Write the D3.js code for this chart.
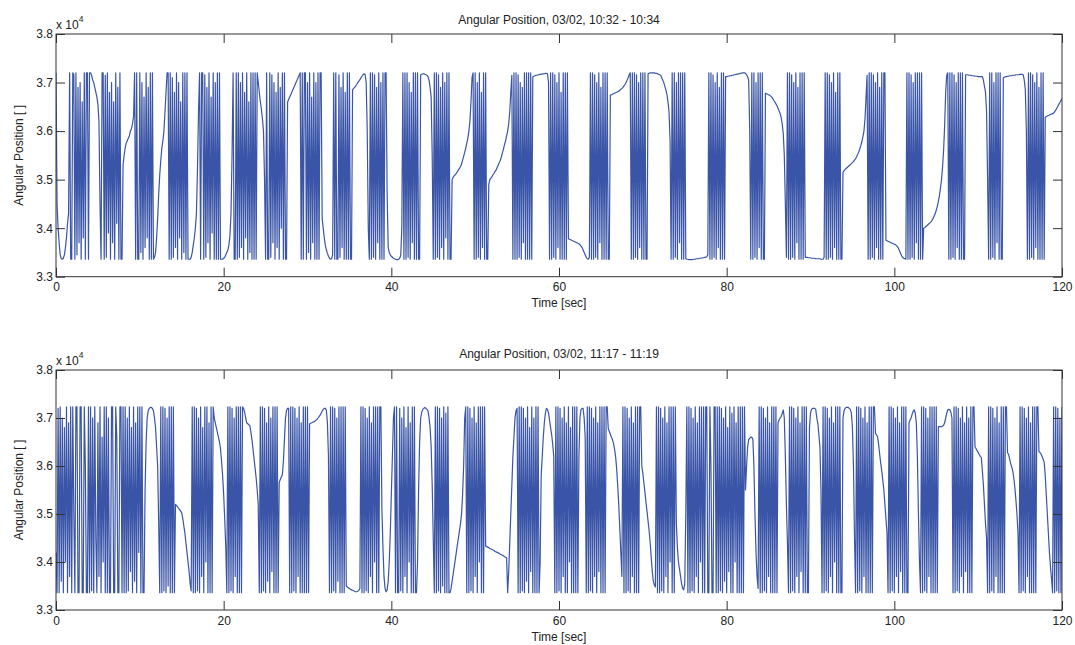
<!DOCTYPE html>
<html>
<head>
<meta charset="utf-8">
<script src="https://cdn.jsdelivr.net/npm/d3@7"></script>
<style>
  html, body { margin: 0; padding: 0; background: #fff; }
  svg { display: block; font-family: "Liberation Sans", Arial, sans-serif; }
</style>
</head>
<body>
<svg id="fig" width="1075" height="645"></svg>
<script>
// Encoder log: one sample every 0.125 s. Positions are in units of 10^4 counts.
// Each run is [start time (s), [consecutive samples]].
const SAMPLE_PERIOD = 0.125;

const xTicks = [0, 20, 40, 60, 80, 100, 120];
const yTicks = [3.3, 3.4, 3.5, 3.6, 3.7, 3.8];
const panelTitles = [
  "Angular Position, 03/02, 10:32 - 10:34",
  "Angular Position, 03/02, 11:17 - 11:19"
];

// 10:32 - 10:34, first 40 s
const topSamples1 = [
  [0, [3.72,3.45,3.40,3.37,3.345,3.337,3.336,3.338,3.345,3.36,3.38,3.41,3.43]],
  [1.625, [3.72,3.336,3.336,3.72,3.716,3.336,3.72,3.345,3.69,3.37,3.70,3.336,3.66,3.38,3.72,3.336,3.72,3.72,3.336]],
  [4.0, [3.72,3.72,3.715,3.705,3.70,3.69,3.68,3.67,3.655,3.62,3.45]],
  [5.375, [3.336,3.72,3.72,3.336,3.715,3.34,3.72,3.39,3.68,3.336,3.70,3.37,3.66,3.336,3.72,3.41,3.69,3.336,3.72,3.336,3.336]],
  [8.0, [3.53,3.55,3.565,3.575,3.58,3.585,3.59,3.60,3.605,3.615,3.63]],
  [9.375, [3.72,3.336,3.72,3.336,3.336,3.72,3.35,3.70,3.336,3.67,3.36,3.72,3.38,3.69,3.336,3.72,3.336,3.72,3.336]],
  [11.75, [3.34,3.35,3.38,3.42,3.47,3.51,3.54,3.565,3.58,3.60,3.64,3.68]],
  [13.25, [3.72,3.72,3.336,3.72,3.336,3.71,3.34,3.68,3.36,3.72,3.336,3.70,3.38,3.66,3.336,3.72,3.35,3.72,3.336,3.72,3.336,3.336]],
  [16.0, [3.336,3.34,3.35,3.365,3.38,3.40,3.43,3.52,3.64]],
  [17.125, [3.72,3.336,3.72,3.72,3.336,3.716,3.34,3.69,3.37,3.72,3.336,3.67,3.39,3.72,3.336,3.70,3.336,3.72,3.336,3.72,3.336]],
  [19.75, [3.336,3.336,3.338,3.34,3.345,3.35,3.355,3.365,3.385,3.43,3.55]],
  [21.125, [3.72,3.336,3.336,3.72,3.336,3.72,3.34,3.70,3.36,3.72,3.336,3.68,3.38,3.72,3.336,3.66,3.35,3.72,3.336,3.72,3.336,3.72,3.336,3.72]],
  [24.125, [3.70,3.68,3.66,3.645,3.625,3.60,3.50]],
  [25.0, [3.336,3.72,3.336,3.336,3.72,3.34,3.716,3.37,3.70,3.336,3.68,3.36,3.72,3.336,3.69,3.40,3.72,3.336,3.72,3.336,3.336]],
  [27.625, [3.66,3.665,3.67,3.675,3.68,3.685,3.69,3.695,3.70,3.705,3.71,3.715,3.72]],
  [29.25, [3.336,3.72,3.336,3.72,3.72,3.336,3.70,3.35,3.72,3.336,3.67,3.37,3.72,3.336,3.70,3.336,3.72,3.336,3.72,3.72]],
  [31.75, [3.42,3.40,3.38,3.365,3.355,3.348,3.342,3.338,3.336,3.337,3.345]],
  [33.125, [3.72,3.336,3.72,3.336,3.336,3.716,3.34,3.69,3.36,3.72,3.336,3.68,3.336,3.72,3.336,3.72,3.336,3.336]],
  [35.375, [3.685,3.688,3.69,3.693,3.696,3.70,3.703,3.706,3.71,3.713,3.716,3.718,3.716,3.70,3.60,3.40]],
  [37.375, [3.336,3.72,3.336,3.72,3.34,3.716,3.336,3.69,3.37,3.72,3.336,3.70,3.336,3.72,3.336,3.72,3.72]]
];

// 10:32 - 10:34, 40 s to 80 s
const topSamples2 = [
  [39.5, [3.47,3.36,3.35,3.345,3.342,3.34,3.338,3.337,3.336,3.335,3.335,3.336,3.338,3.345,3.40]],
  [41.375, [3.72,3.336,3.72,3.336,3.72,3.34,3.70,3.336,3.68,3.37,3.72,3.336,3.72,3.336,3.72,3.336,3.336]],
  [43.5, [3.716,3.717,3.718,3.718,3.717,3.716,3.715,3.712,3.705,3.69,3.67,3.55]],
  [45.0, [3.336,3.72,3.336,3.72,3.34,3.716,3.336,3.69,3.36,3.72,3.336,3.70,3.38,3.72,3.336,3.72,3.336,3.336]],
  [47.25, [3.50,3.505,3.508,3.51,3.513,3.516,3.52,3.523,3.527,3.532,3.54,3.548,3.556,3.565,3.575,3.585,3.60,3.62,3.66,3.71]],
  [49.75, [3.72,3.336,3.72,3.336,3.70,3.34,3.72,3.336,3.68,3.36,3.72,3.336,3.72,3.336,3.336]],
  [51.625, [3.49,3.50,3.503,3.506,3.51,3.513,3.517,3.52,3.525,3.53,3.535,3.54,3.547,3.555,3.563,3.572,3.58,3.59,3.60,3.615,3.64,3.68,3.715]],
  [54.5, [3.336,3.72,3.336,3.72,3.336,3.716,3.34,3.70,3.336,3.69,3.37,3.72,3.336,3.72,3.336,3.72,3.336,3.72,3.336]],
  [56.875, [3.712,3.713,3.714,3.715,3.715,3.716,3.716,3.717,3.717,3.718,3.718,3.718,3.719,3.719,3.718,3.70]],
  [58.875, [3.336,3.72,3.336,3.72,3.34,3.716,3.336,3.70,3.36,3.72,3.336,3.68,3.336,3.72,3.336,3.72,3.336,3.72]],
  [61.125, [3.378,3.377,3.376,3.375,3.374,3.373,3.372,3.371,3.37,3.369,3.368,3.366,3.363,3.36,3.355,3.35,3.345,3.34,3.337,3.336,3.34]],
  [63.75, [3.72,3.336,3.72,3.336,3.716,3.34,3.70,3.336,3.72,3.37,3.69,3.336,3.72,3.336,3.72,3.336,3.72,3.336,3.336]],
  [66.125, [3.674,3.675,3.676,3.677,3.678,3.679,3.68,3.681,3.682,3.684,3.686,3.688,3.69,3.693,3.696,3.70,3.705,3.71,3.716,3.72]],
  [68.625, [3.336,3.72,3.336,3.72,3.34,3.716,3.336,3.70,3.36,3.72,3.336,3.72,3.336,3.72,3.336,3.336]],
  [70.625, [3.718,3.719,3.72,3.72,3.72,3.72,3.72,3.719,3.719,3.718,3.717,3.716,3.715,3.71,3.705,3.70,3.692,3.685,3.675,3.66,3.64,3.58]],
  [73.375, [3.336,3.72,3.336,3.72,3.34,3.70,3.336,3.72,3.37,3.72,3.336,3.72,3.336,3.72]],
  [75.125, [3.337,3.336,3.336,3.335,3.335,3.335,3.335,3.336,3.336,3.336,3.337,3.337,3.337,3.338,3.338,3.338,3.339,3.339,3.34,3.34,3.341,3.345]],
  [77.875, [3.72,3.336,3.72,3.336,3.716,3.34,3.70,3.336,3.72,3.36,3.69,3.336,3.72,3.336,3.72,3.336]],
  [79.875, [3.712,3.712,3.713,3.713,3.714,3.714,3.715,3.715,3.716,3.716,3.717,3.717,3.718,3.718,3.719,3.719,3.72,3.72,3.72,3.719,3.716,3.712,3.705,3.60]]
];

// 10:32 - 10:34, 80 s to 120 s
const topSamples3 = [
  [82.875, [3.336,3.72,3.336,3.72,3.34,3.70,3.336,3.72,3.36,3.72,3.336,3.72,3.336,3.336]],
  [84.625, [3.678,3.677,3.676,3.675,3.674,3.672,3.67,3.667,3.663,3.66,3.656,3.652,3.647,3.642,3.636,3.628,3.615,3.595,3.55,3.45,3.34]],
  [87.25, [3.72,3.336,3.72,3.336,3.716,3.34,3.70,3.336,3.72,3.37,3.69,3.336,3.72,3.336,3.72,3.336,3.72]],
  [89.375, [3.34,3.34,3.34,3.339,3.339,3.339,3.338,3.338,3.338,3.338,3.337,3.337,3.337,3.337,3.337,3.336,3.336,3.336,3.34]],
  [91.75, [3.72,3.336,3.72,3.336,3.716,3.34,3.70,3.336,3.72,3.36,3.68,3.336,3.72,3.336,3.72,3.336,3.336]],
  [93.875, [3.515,3.518,3.521,3.523,3.525,3.527,3.529,3.531,3.533,3.535,3.537,3.54,3.543,3.547,3.552,3.557,3.563,3.57,3.578,3.588,3.60,3.625,3.67,3.715]],
  [96.875, [3.336,3.72,3.336,3.72,3.34,3.716,3.336,3.70,3.36,3.72,3.336,3.69,3.336,3.72,3.336,3.72,3.72]],
  [99.0, [3.375,3.374,3.373,3.372,3.371,3.37,3.369,3.368,3.367,3.366,3.364,3.362,3.358,3.353,3.348,3.343,3.34,3.338,3.337,3.336]],
  [101.5, [3.72,3.336,3.72,3.336,3.716,3.34,3.70,3.336,3.72,3.37,3.72,3.336,3.72,3.336,3.72,3.336]],
  [103.5, [3.40,3.401,3.403,3.405,3.407,3.409,3.411,3.413,3.416,3.42,3.425,3.43,3.437,3.445,3.455,3.467,3.482,3.50,3.525,3.56,3.61,3.68,3.715,3.72]],
  [106.5, [3.336,3.72,3.336,3.72,3.34,3.716,3.336,3.70,3.36,3.72,3.336,3.72,3.336,3.72,3.336,3.336]],
  [108.5, [3.716,3.716,3.716,3.715,3.715,3.715,3.714,3.714,3.714,3.713,3.713,3.713,3.712,3.712,3.712,3.712,3.712,3.705,3.692,3.68,3.64,3.50]],
  [111.25, [3.336,3.72,3.336,3.72,3.34,3.70,3.336,3.72,3.37,3.72,3.336,3.72,3.336,3.336]],
  [113.0, [3.71,3.711,3.712,3.712,3.713,3.713,3.714,3.714,3.714,3.715,3.715,3.715,3.716,3.716,3.716,3.716,3.717,3.717,3.717,3.716,3.705,3.685,3.60]],
  [115.875, [3.336,3.72,3.336,3.72,3.34,3.716,3.336,3.70,3.36,3.72,3.336,3.69,3.336,3.72,3.336,3.72,3.336]],
  [118.0, [3.628,3.63,3.631,3.632,3.633,3.634,3.635,3.636,3.637,3.64,3.643,3.647,3.651,3.655,3.659,3.663,3.667]]
];

// 11:17 - 11:19, first 40 s
const bottomSamples1 = [
  [0, [3.42,3.336,3.72,3.336,3.723,3.36,3.70,3.336,3.68,3.40,3.723,3.336,3.69,3.37,3.723,3.336,3.723,3.50,3.336,3.723]],
  [2.5, [3.723,3.336,3.336,3.723,3.723,3.336,3.336,3.723,3.60,3.336,3.336]],
  [3.875, [3.723,3.336,3.723,3.34,3.70,3.336,3.723,3.45,3.336,3.69,3.37,3.723,3.336,3.66,3.40,3.723,3.336,3.723,3.336,3.70,3.336,3.336]],
  [6.625, [3.723,3.723,3.336,3.336,3.723,3.66,3.336,3.336,3.723,3.723,3.336]],
  [8.0, [3.723,3.336,3.723,3.336,3.70,3.34,3.723,3.38,3.68,3.336,3.723,3.36,3.69,3.336,3.723,3.42,3.723,3.336,3.723,3.336,3.336,3.55]],
  [10.75, [3.65,3.70,3.715,3.72,3.722,3.722,3.72,3.715,3.70,3.68,3.64,3.60,3.48]],
  [12.375, [3.336,3.723,3.336,3.723,3.34,3.72,3.336,3.70,3.35,3.723,3.336,3.723,3.336,3.723,3.336]],
  [14.25, [3.52,3.518,3.515,3.512,3.509,3.506,3.502,3.49,3.475,3.46,3.44,3.42,3.40,3.38,3.355,3.34]],
  [16.25, [3.723,3.336,3.723,3.336,3.72,3.34,3.70,3.336,3.723,3.37,3.68,3.336,3.723,3.40,3.723,3.336,3.69,3.336,3.723,3.336,3.723]],
  [18.875, [3.70,3.69,3.68,3.67,3.66,3.65,3.635,3.61,3.58,3.54,3.49,3.43]],
  [20.375, [3.336,3.723,3.336,3.723,3.34,3.72,3.336,3.70,3.37,3.723,3.336,3.723,3.336,3.723,3.336,3.723]],
  [22.375, [3.72,3.712,3.70,3.69,3.688,3.686,3.684,3.67,3.655,3.635,3.615,3.595,3.575,3.55,3.52]],
  [24.25, [3.336,3.723,3.336,3.723,3.34,3.72,3.336,3.69,3.36,3.723,3.336,3.70,3.38,3.723,3.336,3.723,3.336,3.723,3.336]],
  [26.625, [3.565,3.572,3.577,3.582,3.61,3.655,3.70,3.716,3.72,3.72]],
  [27.875, [3.336,3.723,3.336,3.723,3.34,3.72,3.336,3.70,3.37,3.723,3.336,3.69,3.336,3.723,3.336,3.723,3.336,3.723,3.336]],
  [30.25, [3.688,3.689,3.69,3.691,3.692,3.693,3.695,3.697,3.70,3.703,3.706,3.71,3.714,3.718,3.72,3.72,3.716,3.69,3.62]],
  [32.625, [3.336,3.723,3.336,3.723,3.34,3.72,3.336,3.70,3.36,3.723,3.336,3.723,3.336,3.723,3.336,3.723]],
  [34.625, [3.35,3.348,3.346,3.345,3.343,3.342,3.341,3.34,3.339,3.338,3.338,3.339,3.341,3.345]],
  [36.375, [3.723,3.336,3.723,3.336,3.72,3.34,3.70,3.336,3.723,3.37,3.69,3.336,3.723,3.40,3.723,3.336,3.723,3.336,3.723,3.723]],
  [38.875, [3.51,3.43,3.37,3.345,3.338,3.342,3.36,3.40,3.46,3.54,3.62,3.70]]
];

// 11:17 - 11:19, 40 s to 80 s
const bottomSamples2 = [
  [40.375, [3.723,3.336,3.723,3.336,3.336,3.72,3.34,3.70,3.336,3.723,3.37,3.68,3.336,3.723,3.40,3.69,3.336,3.723,3.336,3.723,3.336,3.336]],
  [43.125, [3.40,3.55,3.65,3.70,3.712,3.718,3.72,3.722,3.72,3.718,3.715,3.70,3.68,3.64,3.56,3.45]],
  [45.125, [3.336,3.723,3.336,3.723,3.34,3.72,3.336,3.70,3.35,3.723,3.336,3.71,3.336,3.723,3.336,3.336]],
  [47.125, [3.345,3.36,3.375,3.39,3.405,3.42,3.435,3.45,3.465,3.48,3.50,3.54,3.60,3.70]],
  [48.875, [3.723,3.336,3.723,3.336,3.72,3.34,3.70,3.336,3.723,3.37,3.69,3.336,3.723,3.40,3.723,3.336,3.723,3.336,3.723]],
  [51.25, [3.433,3.432,3.431,3.43,3.428,3.427,3.426,3.425,3.424,3.422,3.421,3.42,3.419,3.418,3.416,3.415,3.414,3.413,3.411,3.41,3.409]],
  [53.875, [3.336,3.38,3.44,3.50,3.56,3.62,3.66,3.70,3.715,3.72]],
  [55.125, [3.336,3.723,3.336,3.723,3.34,3.72,3.336,3.70,3.36,3.723,3.336,3.68,3.38,3.723,3.336,3.70,3.336,3.723,3.336,3.723,3.336,3.40]],
  [57.875, [3.58,3.62,3.66,3.69,3.71,3.72,3.718,3.71,3.695,3.68,3.665,3.645,3.62]],
  [59.5, [3.336,3.723,3.336,3.723,3.34,3.72,3.336,3.70,3.37,3.723,3.336,3.69,3.336,3.723,3.40,3.68,3.336,3.723,3.336,3.723,3.336,3.723,3.336]],
  [62.375, [3.62,3.70,3.718,3.72,3.72,3.70,3.66]],
  [63.25, [3.336,3.723,3.336,3.723,3.34,3.72,3.336,3.70,3.37,3.723,3.336,3.69,3.38,3.723,3.336,3.723,3.336,3.723,3.336,3.723,3.723]],
  [65.875, [3.678,3.672,3.666,3.66,3.655,3.647,3.635,3.62,3.595,3.56,3.52,3.47,3.42,3.37]],
  [67.625, [3.723,3.336,3.723,3.336,3.72,3.34,3.70,3.336,3.723,3.37,3.69,3.336,3.723,3.336,3.723,3.336,3.723,3.723]],
  [69.875, [3.60,3.585,3.565,3.545,3.525,3.505,3.485,3.465,3.44,3.41,3.38,3.36,3.352,3.348]],
  [71.625, [3.723,3.336,3.723,3.336,3.72,3.34,3.70,3.336,3.723,3.37,3.69,3.336,3.723,3.40,3.723,3.336,3.723,3.336,3.723]],
  [74.0, [3.48,3.43,3.40,3.385,3.37,3.355,3.345,3.342,3.355]],
  [75.125, [3.50,3.723,3.336,3.723,3.336,3.72,3.34,3.70,3.336,3.723,3.37,3.69,3.336,3.723,3.40,3.723,3.336,3.723,3.336,3.723,
            3.723,3.336,3.336,3.723,3.60,3.336,3.336,3.723,3.723,3.336,
            3.723,3.336,3.723,3.34,3.72,3.336,3.70,3.36,3.723,3.336,3.68,3.38,3.723,3.336,3.71,3.336,3.723,3.40,3.69,3.336,
            3.723,3.336,3.723,3.336,3.723,3.336,3.723,3.55]]
];

// 11:17 - 11:19, 80 s to 120 s
const bottomSamples3 = [
  [82.375, [3.60,3.64,3.655,3.658,3.66,3.66,3.655,3.60,3.50,3.42,3.37,3.345]],
  [83.875, [3.723,3.336,3.723,3.336,3.72,3.34,3.70,3.336,3.723,3.37,3.69,3.336,3.723,3.336,3.723,3.336,3.723,3.336]],
  [86.125, [3.69,3.696,3.70,3.703,3.71,3.717,3.70,3.62,3.52,3.44]],
  [87.375, [3.336,3.723,3.336,3.723,3.34,3.72,3.336,3.70,3.37,3.723,3.336,3.69,3.38,3.723,3.336,3.723,3.336,3.723,3.336,3.336]],
  [89.875, [3.68,3.71,3.718,3.72,3.72,3.72,3.718,3.70,3.689,3.665,3.64,3.55]],
  [91.375, [3.336,3.723,3.336,3.723,3.34,3.72,3.336,3.70,3.37,3.723,3.336,3.69,3.40,3.723,3.336,3.723,3.336,3.723,3.336,3.336]],
  [93.875, [3.70,3.715,3.72,3.722,3.722,3.722,3.72,3.718,3.71,3.68,3.60,3.45]],
  [95.375, [3.336,3.723,3.336,3.723,3.34,3.72,3.336,3.70,3.37,3.723,3.336,3.69,3.336,3.723,3.336,3.723,3.336,3.723,3.723]],
  [97.75, [3.668,3.665,3.661,3.645,3.625,3.606,3.59,3.57,3.55,3.52,3.49,3.46]],
  [99.25, [3.336,3.723,3.336,3.723,3.34,3.72,3.336,3.70,3.37,3.723,3.336,3.69,3.38,3.723,3.336,3.723,3.336,3.723,3.336,3.336]],
  [101.75, [3.69,3.696,3.70,3.708,3.714,3.717,3.71,3.689,3.62,3.50,3.40]],
  [103.125, [3.336,3.723,3.336,3.723,3.34,3.72,3.336,3.70,3.37,3.723,3.336,3.723,3.336,3.723,3.336,3.723,3.336]],
  [105.25, [3.682,3.682,3.682,3.682,3.683,3.685,3.69,3.70,3.71,3.717,3.718,3.717,3.712,3.70]],
  [107.0, [3.336,3.723,3.336,3.723,3.34,3.72,3.336,3.70,3.37,3.723,3.336,3.69,3.38,3.723,3.336,3.70,3.336,3.723,3.336,3.723,3.723]],
  [109.625, [3.64,3.636,3.632,3.628,3.624,3.62,3.618,3.59,3.56,3.52,3.48,3.45]],
  [111.125, [3.336,3.723,3.336,3.723,3.34,3.72,3.336,3.70,3.37,3.723,3.336,3.69,3.336,3.723,3.336,3.723,3.336,3.723,3.723]],
  [113.5, [3.628,3.624,3.615,3.605,3.598,3.59,3.575,3.555,3.53,3.50,3.46]],
  [114.875, [3.336,3.723,3.336,3.723,3.34,3.72,3.336,3.70,3.37,3.723,3.336,3.69,3.336,3.723,3.336,3.723,3.336,3.723,3.723]],
  [117.25, [3.63,3.628,3.625,3.62,3.614,3.608,3.58,3.54,3.50,3.46,3.42,3.39,3.365]],
  [118.875, [3.336,3.723,3.336,3.723,3.34,3.72,3.336,3.70,3.336,3.723]]
];

// ---- layout ----
const W = 1075, H = 645;
const plotLeft = 56, plotRight = 1062;
const panels = [
  { title: panelTitles[0], runs: [topSamples1, topSamples2, topSamples3],
    top: 34, bottom: 276.7, titleY: 23.6, xLabelY: 307.3 },
  { title: panelTitles[1], runs: [bottomSamples1, bottomSamples2, bottomSamples3],
    top: 370, bottom: 610, titleY: 358, xLabelY: 640.6 }
];

const TRACE_COLOR = "#3a55a8";
const AXIS_COLOR = "#333";
const TEXT_COLOR = "#222";
const FONT = '"Liberation Sans", Arial, sans-serif';

const svg = d3.select("#fig");
svg.append("rect").attr("width", W).attr("height", H).attr("fill", "#fff");

const x = d3.scaleLinear().domain([0, 120]).range([plotLeft, plotRight]);

panels.forEach((p, idx) => {
  const y = d3.scaleLinear().domain([3.3, 3.8]).range([p.bottom, p.top]);
  const g = svg.append("g");

  // samples -> (time, position) pairs
  const pts = p.runs.flat().flatMap(([t0, vals]) =>
    vals.map((v, k) => [t0 + k * SAMPLE_PERIOD, v]));

  const clipId = "clip" + idx;
  g.append("clipPath").attr("id", clipId)
    .append("rect")
    .attr("x", plotLeft).attr("y", p.top)
    .attr("width", plotRight - plotLeft).attr("height", p.bottom - p.top);

  g.append("path")
    .datum(pts)
    .attr("clip-path", `url(#${clipId})`)
    .attr("fill", "none")
    .attr("stroke", TRACE_COLOR)
    .attr("stroke-width", 1.2)
    .attr("stroke-linejoin", "round")
    .attr("d", d3.line().x(d => x(d[0])).y(d => y(d[1])));

  const styleAxis = sel => {
    sel.select(".domain").remove();
    sel.attr("font-family", FONT).attr("font-size", 12)
      .style("color", AXIS_COLOR);
    sel.selectAll("text").attr("fill", TEXT_COLOR);
  };

  // bottom axis with labels, ticks pointing inward
  g.append("g").attr("transform", `translate(0,${p.bottom})`)
    .call(d3.axisBottom(x).tickValues(xTicks).tickSizeInner(-9).tickSizeOuter(0)
      .tickPadding(6).tickFormat(d3.format("d")))
    .call(styleAxis);
  // top ticks
  g.append("g").attr("transform", `translate(0,${p.top})`)
    .call(d3.axisTop(x).tickValues(xTicks).tickSizeInner(-9).tickSizeOuter(0).tickFormat(""))
    .call(styleAxis);
  // left axis with labels
  g.append("g").attr("transform", `translate(${plotLeft},0)`)
    .call(d3.axisLeft(y).tickValues(yTicks).tickSizeInner(-9).tickSizeOuter(0)
      .tickPadding(3).tickFormat(d3.format(".1f")))
    .call(styleAxis);
  // right ticks
  g.append("g").attr("transform", `translate(${plotRight},0)`)
    .call(d3.axisRight(y).tickValues(yTicks).tickSizeInner(-9).tickSizeOuter(0).tickFormat(""))
    .call(styleAxis);

  // axes box
  g.append("rect")
    .attr("x", plotLeft).attr("y", p.top)
    .attr("width", plotRight - plotLeft).attr("height", p.bottom - p.top)
    .attr("fill", "none").attr("stroke", AXIS_COLOR).attr("stroke-width", 1);

  // exponent marker
  const ex = g.append("text")
    .attr("x", plotLeft).attr("y", p.top - 5.5)
    .attr("font-family", FONT).attr("font-size", 12).attr("fill", TEXT_COLOR);
  ex.append("tspan").text("x 10");
  ex.append("tspan").attr("dy", -7).attr("font-size", 8.5).text("4");

  // title
  g.append("text")
    .attr("x", (plotLeft + plotRight) / 2).attr("y", p.titleY)
    .attr("text-anchor", "middle")
    .attr("font-family", FONT).attr("font-size", 12).attr("fill", TEXT_COLOR)
    .text(p.title);

  // x label
  g.append("text")
    .attr("x", (plotLeft + plotRight) / 2).attr("y", p.xLabelY)
    .attr("text-anchor", "middle")
    .attr("font-family", FONT).attr("font-size", 12).attr("fill", TEXT_COLOR)
    .text("Time [sec]");

  // y label
  g.append("text")
    .attr("transform", `translate(23,${(p.top + p.bottom) / 2}) rotate(-90)`)
    .attr("text-anchor", "middle")
    .attr("font-family", FONT).attr("font-size", 12).attr("fill", TEXT_COLOR)
    .text("Angular Position [ ]");
});
</script>
</body>
</html>
